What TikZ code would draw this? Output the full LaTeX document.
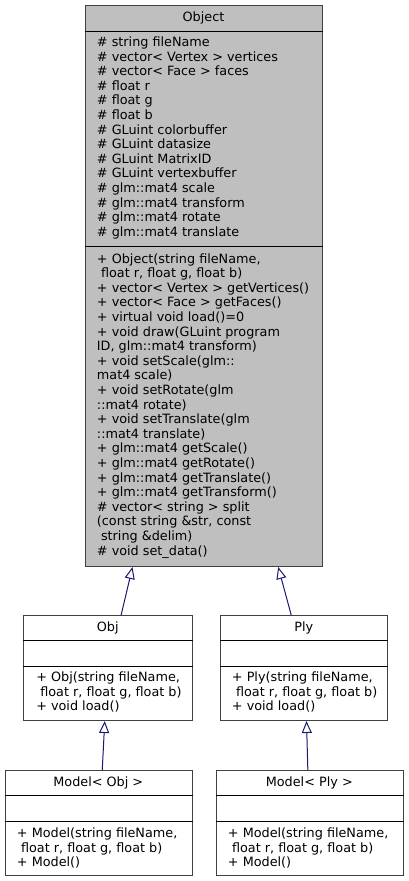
\documentclass[tikz,border=0pt]{standalone}
\usepackage{fontspec}
\setmainfont{DejaVu Sans}
\usetikzlibrary{arrows.meta,calc}
\definecolor{objfill}{HTML}{BFBFBF}
\definecolor{edgec}{HTML}{191970}
\definecolor{bord}{HTML}{404040}
\newcommand\ind{\hspace*{0.318em}}
\newcommand\mylines[1]{\begin{tabular}[t]{@{}l@{}}#1\end{tabular}}
\begin{document}
\begin{tikzpicture}[x=0.75pt,y=-0.75pt,
  cls/.style={draw=bord, line width=0.75pt, rectangle, inner sep=0pt, anchor=north west},
  sep/.style={draw=black, line width=0.75pt},
  txt/.style={font=\fontsize{9.6pt}{10.95pt}\selectfont, inner sep=0pt, anchor=base west},
  ttl/.style={font=\fontsize{9.6pt}{10.95pt}\selectfont, inner sep=0pt, anchor=base},
  inh/.style={draw=edgec, line width=0.75pt, -{Triangle[open, length=9pt, width=7.5pt, fill=white]}},
]
\useasboundingbox (0,0) rectangle (408,881);

% Object
\node[cls, fill=objfill, minimum width=177.75pt, minimum height=420.75pt] (object) at (85,5) {};
\draw[sep] ($(object.north west)+(0,26.7)$) -- ($(object.north east)+(0,26.7)$);
\draw[sep] ($(object.north west)+(0,241)$) -- ($(object.north east)+(0,241)$);
\node[ttl] (objectT) at (203.5,22) {Object};
\node[txt] (objectA) at (96.7,46.5) {\mylines{\# string fileName\\
\# vector< Vertex > vertices\\
\# vector< Face > faces\\
\# float r\\
\# float g\\
\# float b\\
\# GLuint colorbuffer\\
\# GLuint datasize\\
\# GLuint MatrixID\\
\# GLuint vertexbuffer\\
\# glm::mat4 scale\\
\# glm::mat4 transform\\
\# glm::mat4 rotate\\
\# glm::mat4 translate}};
\node[txt] (objectM) at (96.7,263) {\mylines{+ Object(string fileName,\\
\ind float r, float g, float b)\\
+ vector< Vertex > getVertices()\\
+ vector< Face > getFaces()\\
+ virtual void load()=0\\
+ void draw(GLuint program\\
ID, glm::mat4 transform)\\
+ void setScale(glm::\\
mat4 scale)\\
+ void setRotate(glm\\
::mat4 rotate)\\
+ void setTranslate(glm\\
::mat4 translate)\\
+ glm::mat4 getScale()\\
+ glm::mat4 getRotate()\\
+ glm::mat4 getTranslate()\\
+ glm::mat4 getTransform()\\
\# vector< string > split\\
(const string \&str, const\\
\ind string \&delim)\\
\# void set\_data()}};

% Obj
\node[cls, fill=white, minimum width=126.5pt, minimum height=78.75pt] (obj) at (23.3,615) {};
\draw[sep] ($(obj.north west)+(0,25.5)$) -- ($(obj.north east)+(0,25.5)$);
\draw[sep] ($(obj.north west)+(0,51)$) -- ($(obj.north east)+(0,51)$);
\node[ttl] (objT) at (107.7,631) {Obj};
\node[txt] (objM) at (36,681.5) {\mylines{+ Obj(string fileName,\\
\ind float r, float g, float b)\\
+ void load()}};

% Ply
\node[cls, fill=white, minimum width=125.25pt, minimum height=78.75pt] (ply) at (220.3,615) {};
\draw[sep] ($(ply.north west)+(0,25.5)$) -- ($(ply.north east)+(0,25.5)$);
\draw[sep] ($(ply.north west)+(0,51)$) -- ($(ply.north east)+(0,51)$);
\node[ttl] (plyT) at (303.8,631) {Ply};
\node[txt] (plyM) at (231.7,681.5) {\mylines{+ Ply(string fileName,\\
\ind float r, float g, float b)\\
+ void load()}};

% Model<Obj>
\node[cls, fill=white, minimum width=140.5pt, minimum height=78.75pt] (mobj) at (4.7,770) {};
\draw[sep] ($(mobj.north west)+(0,25.5)$) -- ($(mobj.north east)+(0,25.5)$);
\draw[sep] ($(mobj.north west)+(0,51)$) -- ($(mobj.north east)+(0,51)$);
\node[ttl] (mobjT) at (98.3,786) {Model< Obj >};
\node[txt] (mobjM) at (16.7,837.5) {\mylines{+ Model(string fileName,\\
\ind float r, float g, float b)\\
+ Model()}};

% Model<Ply>
\node[cls, fill=white, minimum width=140pt, minimum height=78.75pt] (mply) at (216,770) {};
\draw[sep] ($(mply.north west)+(0,25.5)$) -- ($(mply.north east)+(0,25.5)$);
\draw[sep] ($(mply.north west)+(0,51)$) -- ($(mply.north east)+(0,51)$);
\node[ttl] (mplyT) at (309.3,786) {Model< Ply >};
\node[txt] (mplyM) at (227.7,837.5) {\mylines{+ Model(string fileName,\\
\ind float r, float g, float b)\\
+ Model()}};

% inheritance
\draw[inh] ($(obj.north)+(13,0)$) -- ($(object.south)+(-71.5,0)$);
\draw[inh] ($(ply.north)+(-13.1,0)$) -- ($(object.south)+(74.2,0)$);
\draw[inh] ($(mobj.north)+(3.4,0)$) -- ($(obj.south)+(-3.4,0)$);
\draw[inh] ($(mply.north)+(-2,0)$) -- ($(ply.south)+(2.2,0)$);
\end{tikzpicture}
\end{document}
